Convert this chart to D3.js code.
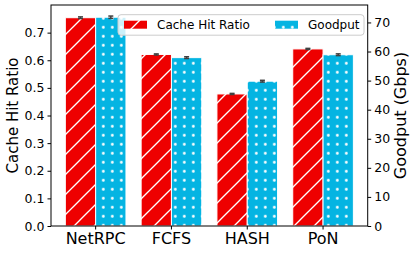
<!DOCTYPE html>
<html>
<head>
<meta charset="utf-8">
<script src="https://cdn.jsdelivr.net/npm/d3@7"></script>
<style>
  body { margin: 0; background: #fff; }
  text { font-family: "DejaVu Sans", sans-serif; fill: #000; }
</style>
</head>
<body>
<div id="chart"></div>
<script>
// data
const CATEGORIES = ["NetRPC", "FCFS", "HASH", "PoN"];
const HIT_RATIO = [0.754, 0.621, 0.478, 0.641];
const HIT_ERR = [0.003, 0.002, 0.002, 0.002];
const GOODPUT = [71.8, 57.9, 49.8, 58.9];
const GOODPUT_ERR = [0.4, 0.3, 0.3, 0.3];
const LEFT_TICKS = [0, 0.1, 0.2, 0.3, 0.4, 0.5, 0.6, 0.7];
const RIGHT_TICKS = [0, 10, 20, 30, 40, 50, 60, 70];

// Frame dimensions
const FRAME_WIDTH = 415;
const FRAME_HEIGHT = 253;
const MARGINS = {left: 51, right: 47.3, top: 5, bottom: 27};
const RED = "#ee0000";
const BLUE = "#04b4e2";

const SVG = d3.select("#chart")
    .append("svg")
    .attr("width", FRAME_WIDTH)
    .attr("height", FRAME_HEIGHT);

// hatch patterns (anchored to page, like matplotlib)
const defs = SVG.append("defs");
const lineP = defs.append("pattern")
    .attr("id", "hatchRed")
    .attr("patternUnits", "userSpaceOnUse")
    .attr("width", 20).attr("height", 20);
lineP.append("rect").attr("width", 20).attr("height", 20).attr("fill", RED);
[[0, 20, 20, 0], [-2, 2, 2, -2], [18, 22, 22, 18]].forEach((l) => {
    lineP.append("line")
        .attr("x1", l[0]).attr("y1", l[1]).attr("x2", l[2]).attr("y2", l[3])
        .attr("stroke", "#fff").attr("stroke-width", 1.3);
});

const dotP = defs.append("pattern")
    .attr("id", "dotsBlue")
    .attr("patternUnits", "userSpaceOnUse")
    .attr("patternTransform", "translate(-0.2,-4.2)")
    .attr("width", 9).attr("height", 9);
dotP.append("rect").attr("width", 9).attr("height", 9).attr("fill", BLUE);
dotP.append("circle").attr("cx", 4.5).attr("cy", 4.5).attr("r", 1.4).attr("fill", "#fff");

const PLOT_W = FRAME_WIDTH - MARGINS.left - MARGINS.right;
const PLOT_H = FRAME_HEIGHT - MARGINS.top - MARGINS.bottom;

// scales
const X_SCALE = d3.scaleBand()
    .domain(CATEGORIES)
    .range([MARGINS.left, MARGINS.left + PLOT_W])
    .paddingInner(0)
    .paddingOuter(0.089);
const BAR_W = X_SCALE.bandwidth() * 0.4;
const xMid = (c) => X_SCALE(c) + X_SCALE.bandwidth() / 2;

const Y_LEFT = d3.scaleLinear().domain([0, 0.8]).range([MARGINS.top + PLOT_H, MARGINS.top]);
const Y_RIGHT = d3.scaleLinear().domain([0, 76]).range([MARGINS.top + PLOT_H, MARGINS.top]);

const hitData = CATEGORIES.map((c, i) => ({cat: c, v: HIT_RATIO[i], e: HIT_ERR[i]}));
const gpData = CATEGORIES.map((c, i) => ({cat: c, v: GOODPUT[i], e: GOODPUT_ERR[i]}));

// bars
SVG.append("g").selectAll("rect")
    .data(hitData)
    .enter()
    .append("rect")
    .attr("x", (d) => xMid(d.cat) - BAR_W)
    .attr("y", (d) => Y_LEFT(d.v))
    .attr("width", BAR_W)
    .attr("height", (d) => Y_LEFT(0) - Y_LEFT(d.v))
    .attr("fill", "url(#hatchRed)")
    .attr("stroke", "#fff")
    .attr("stroke-width", 1);

SVG.append("g").selectAll("rect")
    .data(gpData)
    .enter()
    .append("rect")
    .attr("x", (d) => xMid(d.cat))
    .attr("y", (d) => Y_RIGHT(d.v))
    .attr("width", BAR_W)
    .attr("height", (d) => Y_RIGHT(0) - Y_RIGHT(d.v))
    .attr("fill", "url(#dotsBlue)")
    .attr("stroke", "#fff")
    .attr("stroke-width", 1);

// error bars
function drawErr(data, scale, off) {
    const g = SVG.append("g").attr("stroke", "#404040").attr("stroke-width", 1.5);
    data.forEach((d) => {
        const cx = xMid(d.cat) + off;
        g.append("line").attr("x1", cx).attr("x2", cx)
            .attr("y1", scale(d.v - d.e)).attr("y2", scale(d.v + d.e));
        g.append("line").attr("x1", cx - 2.5).attr("x2", cx + 2.5)
            .attr("y1", scale(d.v + d.e)).attr("y2", scale(d.v + d.e));
        g.append("line").attr("x1", cx - 2.5).attr("x2", cx + 2.5)
            .attr("y1", scale(d.v - d.e)).attr("y2", scale(d.v - d.e));
    });
}
drawErr(hitData, Y_LEFT, -BAR_W / 2);
drawErr(gpData, Y_RIGHT, BAR_W / 2);

// axes
const xAxis = SVG.append("g")
    .attr("transform", "translate(0," + (MARGINS.top + PLOT_H) + ")")
    .call(d3.axisBottom(X_SCALE).tickSize(3.5).tickPadding(3));
xAxis.selectAll("text").attr("font-size", "16px");

const leftAxis = SVG.append("g")
    .attr("transform", "translate(" + MARGINS.left + ",0)")
    .call(d3.axisLeft(Y_LEFT).tickValues(LEFT_TICKS).tickFormat(d3.format(".1f"))
        .tickSize(3.5).tickPadding(3));
leftAxis.selectAll("text").attr("font-size", "12.5px");

const rightAxis = SVG.append("g")
    .attr("transform", "translate(" + (MARGINS.left + PLOT_W) + ",0)")
    .call(d3.axisRight(Y_RIGHT).tickValues(RIGHT_TICKS).tickSize(3.5).tickPadding(3));
rightAxis.selectAll("text").attr("font-size", "12.5px");

[xAxis, leftAxis, rightAxis].forEach((a) => {
    a.select(".domain").remove();
    a.attr("font-family", null);
    a.selectAll(".tick line").attr("stroke", "#000").attr("stroke-width", 1);
});

// frame
SVG.append("rect")
    .attr("x", MARGINS.left).attr("y", MARGINS.top)
    .attr("width", PLOT_W).attr("height", PLOT_H)
    .attr("fill", "none").attr("stroke", "#000").attr("stroke-width", 1);

// axis labels
SVG.append("text")
    .attr("transform", "translate(17.5," + (MARGINS.top + PLOT_H / 2) + ") rotate(-90)")
    .attr("text-anchor", "middle")
    .attr("font-size", "15px")
    .text("Cache Hit Ratio");

SVG.append("text")
    .attr("transform", "translate(406," + (MARGINS.top + PLOT_H / 2) + ") rotate(-90)")
    .attr("text-anchor", "middle")
    .attr("font-size", "16px")
    .text("Goodput (Gbps)");

// legend
const LEG = SVG.append("g");
LEG.append("rect")
    .attr("x", 118).attr("y", 14.7).attr("width", 246).attr("height", 20.5)
    .attr("rx", 3)
    .attr("fill", "#fff").attr("fill-opacity", 0.8)
    .attr("stroke", "#cccccc").attr("stroke-width", 1);
const legendItems = [
    {label: "Cache Hit Ratio", fill: "url(#hatchRed)", x: 124},
    {label: "Goodput", fill: "url(#dotsBlue)", x: 275}
];
legendItems.forEach((it) => {
    LEG.append("rect")
        .attr("x", it.x).attr("y", 20.7).attr("width", 23).attr("height", 8)
        .attr("fill", it.fill);
    LEG.append("text")
        .attr("x", it.x + 33).attr("y", 29.2)
        .attr("font-size", "12px")
        .text(it.label);
});
</script>
</body>
</html>
